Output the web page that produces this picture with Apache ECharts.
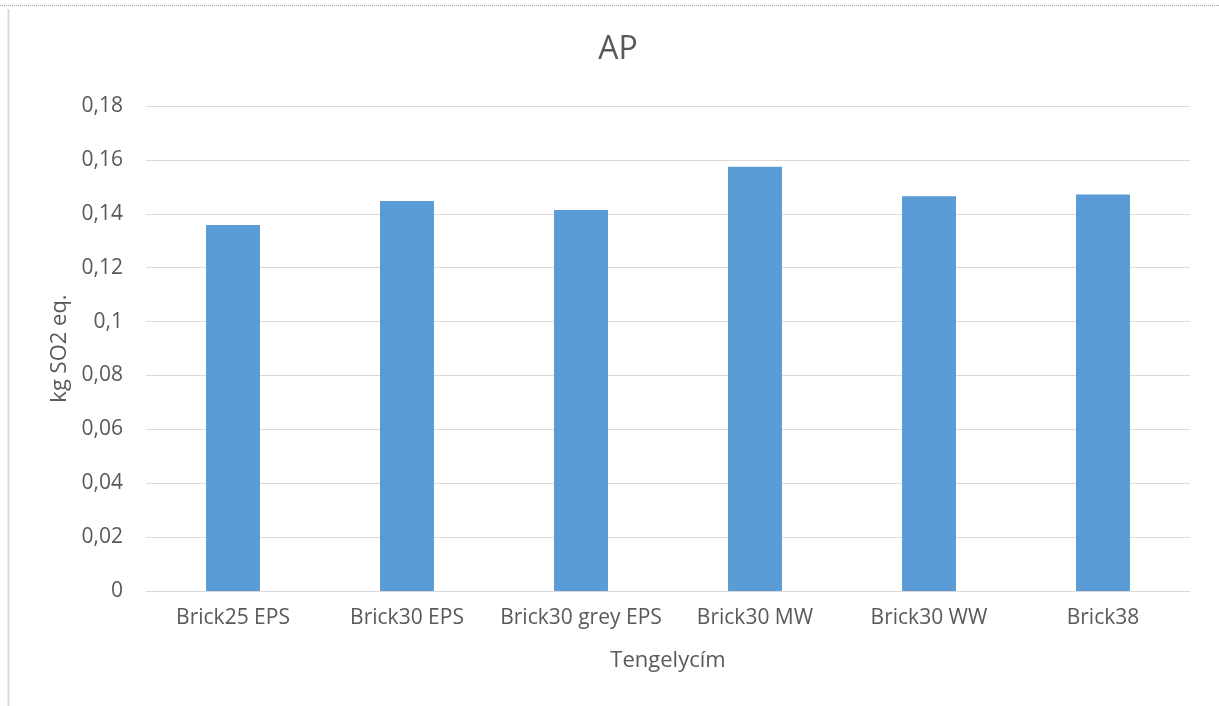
<!DOCTYPE html>
<html>
<head>
<meta charset="utf-8">
<script src="https://cdn.jsdelivr.net/npm/echarts@6/dist/echarts.min.js"></script>
<style>
html,body{margin:0;padding:0;background:#fff;}
#chart{width:1219px;height:706px;}
</style>
</head>
<body>
<div id="chart"></div>
<script>
// AP (acidification potential) per wall build-up
const categories = ['Brick25 EPS', 'Brick30 EPS', 'Brick30 grey EPS', 'Brick30 MW', 'Brick30 WW', 'Brick38'];
const apValues = [0.1358, 0.1447, 0.1414, 0.1575, 0.1465, 0.1472];

const FONT = '"Open Sans", "Noto Sans", sans-serif';
const TEXT = '#595959';

const chart = echarts.init(document.getElementById('chart'));
chart.setOption({
  animation: false,
  title: {
    text: 'AP',
    left: 613, top: 29, textAlign: 'center',
    textStyle: { fontFamily: FONT, fontSize: 32, fontWeight: 'normal', color: TEXT }
  },
  grid: { left: 146, right: 29, top: 106, bottom: 115 },
  xAxis: {
    type: 'category',
    data: categories,
    name: 'Tengelycím',
    nameLocation: 'middle',
    nameGap: 59,
    nameTextStyle: { fontFamily: FONT, fontSize: 22, color: TEXT },
    axisLine: { lineStyle: { color: '#D9D9D9', width: 1 } },
    axisTick: { show: false },
    axisLabel: { fontFamily: FONT, fontSize: 21, color: TEXT, margin: 17, interval: 0 }
  },
  yAxis: {
    type: 'value',
    min: 0, max: 0.18, interval: 0.02,
    name: 'kg SO2 eq.',
    nameLocation: 'middle',
    nameGap: 73,
    nameTextStyle: { fontFamily: FONT, fontSize: 22, color: TEXT },
    axisLine: { show: false },
    axisTick: { show: false },
    splitLine: { lineStyle: { color: '#D9D9D9', width: 1 } },
    axisLabel: {
      fontFamily: FONT, fontSize: 21, color: TEXT, margin: 23,
      formatter: v => String(+v.toFixed(2)).replace('.', ',')
    }
  },
  series: [{
    type: 'bar',
    data: apValues,
    barWidth: '31%',
    itemStyle: { color: '#5B9BD5' }
  }],
  graphic: [
    { type: 'line', shape: { x1: 0, y1: 5.5, x2: 1219, y2: 5.5 }, style: { stroke: '#A6A6A6', lineWidth: 1, lineDash: [1, 1] }, silent: true },
    { type: 'line', shape: { x1: 8.5, y1: 9, x2: 8.5, y2: 706 }, style: { stroke: '#D9D9D9', lineWidth: 2 }, silent: true }
  ]
});
</script>
</body>
</html>
